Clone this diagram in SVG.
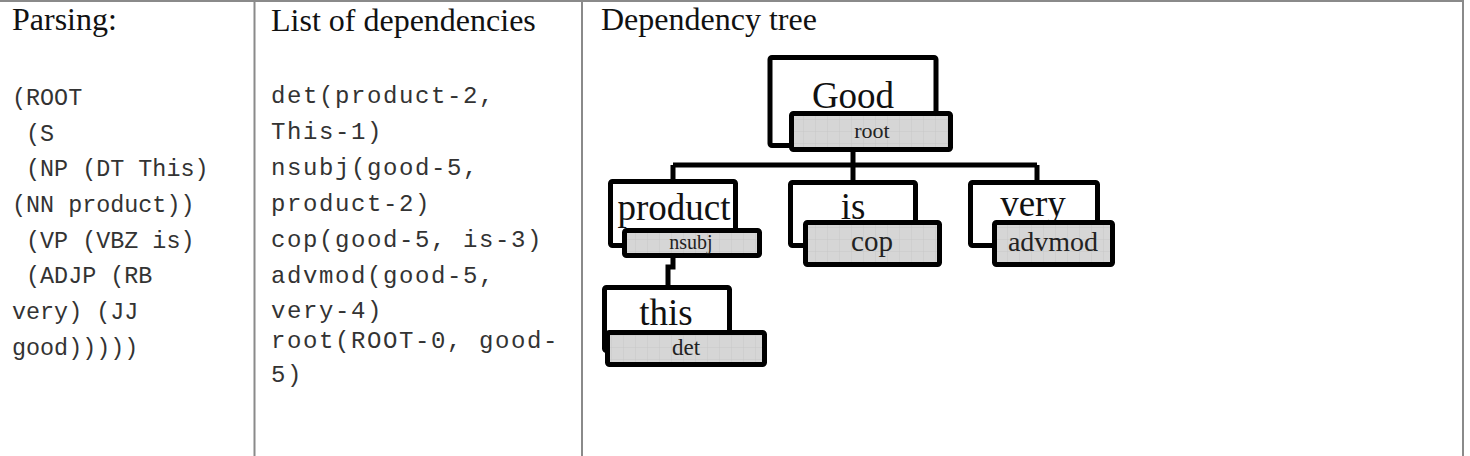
<svg xmlns="http://www.w3.org/2000/svg" width="1470" height="456" viewBox="0 0 1470 456">
<defs>
<pattern id="grid" width="12" height="12" patternUnits="userSpaceOnUse">
<rect width="12" height="12" fill="#d6d6d6"/>
<path d="M12 0V12M0 12H12" stroke="#c4c4c4" stroke-width="0.8" fill="none"/>
</pattern>
<style>
.tbl{stroke:#8a8a8a;stroke-width:2;fill:none}
.hd{font-family:"Liberation Serif",serif;font-size:32px;fill:#111}
.m1{font-family:"Liberation Mono",monospace;font-size:23.4px;fill:#333}
.m2{font-family:"Liberation Mono",monospace;font-size:24px;letter-spacing:1.6px;fill:#333}
.box{fill:#fff;stroke:#000;stroke-width:5;stroke-linejoin:round}
.lab{fill:url(#grid);stroke:#000;stroke-width:5;stroke-linejoin:round}
.w{font-family:"Liberation Serif","DejaVu Serif",serif;font-size:37px;fill:#111;text-anchor:middle}
.l{font-family:"Liberation Serif","DejaVu Serif",serif;fill:#222;text-anchor:middle}
.c{stroke:#000;stroke-width:5;fill:none;stroke-linejoin:miter}
</style>
</defs>
<rect width="1470" height="456" fill="#fff"/>
<g id="table">
<line class="tbl" x1="0" y1="1" x2="1464" y2="1"/>
<line class="tbl" x1="254.5" y1="0" x2="254.5" y2="456"/>
<line class="tbl" x1="582" y1="0" x2="582" y2="456"/>
<line class="tbl" x1="1463" y1="0" x2="1463" y2="456"/>
</g>
<g id="col-parsing">
<text class="hd" x="12" y="30">Parsing:</text>
<text class="m1" xml:space="preserve"><tspan x="12" y="105">(ROOT</tspan><tspan x="12" y="140.5"> (S</tspan><tspan x="12" y="176"> (NP (DT This)</tspan><tspan x="12" y="212">(NN product))</tspan><tspan x="12" y="247.5"> (VP (VBZ is)</tspan><tspan x="12" y="283"> (ADJP (RB</tspan><tspan x="12" y="319">very) (JJ</tspan><tspan x="12" y="354.5">good)))))</tspan></text>
</g>
<g id="col-deps">
<text class="hd" x="271" y="31">List of dependencies</text>
<text class="m2" xml:space="preserve"><tspan x="271" y="103">det(product-2,</tspan><tspan x="271" y="139">This-1)</tspan><tspan x="271" y="175">nsubj(good-5,</tspan><tspan x="271" y="211">product-2)</tspan><tspan x="271" y="247">cop(good-5, is-3)</tspan><tspan x="271" y="283">advmod(good-5,</tspan><tspan x="271" y="318">very-4)</tspan><tspan x="271" y="348">root(ROOT-0, good-</tspan><tspan x="271" y="382">5)</tspan></text>
</g>
<g id="col-tree-title">
<text class="hd" x="601" y="30">Dependency tree</text>
</g>
<g id="connectors">
<path class="c" d="M853 150V165"/>
<path class="c" d="M673 165H1037"/>
<path class="c" d="M673 165V182"/>
<path class="c" d="M853 165V183"/>
<path class="c" d="M1037 165V183"/>
<path class="c" d="M673 256V267H668V288"/>
</g>
<g id="node-good">
<rect class="box" x="770" y="57.5" width="166" height="88" rx="2"/>
<text class="w" x="853" y="108">Good</text>
<rect class="lab" x="791.5" y="113.5" width="159" height="36" rx="2"/>
<text class="l" x="872" y="138" font-size="22">root</text>
</g>
<g id="node-product">
<rect class="box" x="610.5" y="181.5" width="125" height="64" rx="2"/>
<text class="w" x="674" y="220">product</text>
<rect class="lab" x="624.5" y="230.5" width="135" height="25" rx="2"/>
<text class="l" x="691" y="249" font-size="20">nsubj</text>
</g>
<g id="node-is">
<rect class="box" x="790.5" y="182.5" width="125" height="63" rx="2"/>
<text class="w" x="853" y="219">is</text>
<rect class="lab" x="805.5" y="222.5" width="134" height="42" rx="2"/>
<text class="l" x="872" y="251" font-size="29">cop</text>
</g>
<g id="node-very">
<rect class="box" x="970.5" y="182.5" width="127" height="63" rx="2"/>
<text class="w" x="1033" y="216">very</text>
<rect class="lab" x="994.5" y="222.5" width="118" height="42" rx="2"/>
<text class="l" x="1053" y="251" font-size="28">advmod</text>
</g>
<g id="node-this">
<rect class="box" x="604.5" y="287.5" width="125" height="63" rx="2"/>
<text class="w" x="666" y="325">this</text>
<rect class="lab" x="607.5" y="332.5" width="157" height="32" rx="2"/>
<text class="l" x="686" y="355" font-size="23">det</text>
</g>
</svg>
